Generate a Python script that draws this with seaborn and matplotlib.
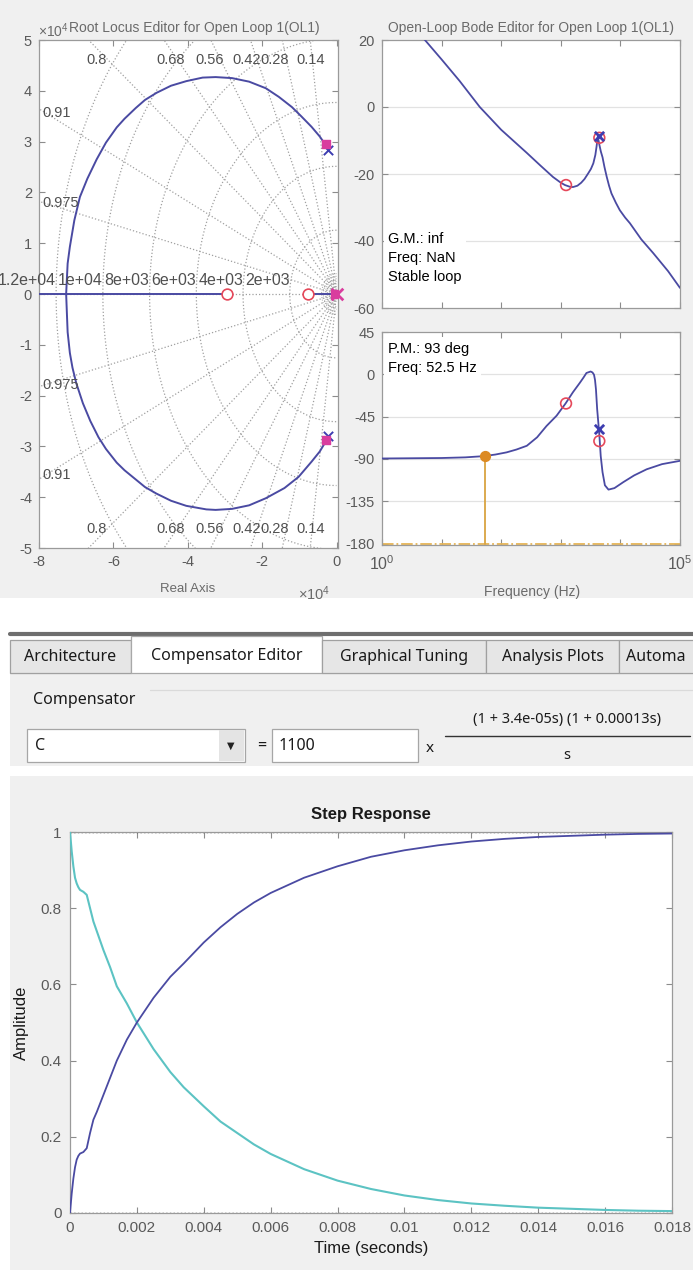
import numpy as np
import pandas as pd
import matplotlib
matplotlib.use("Agg")
import matplotlib.pyplot as plt
from matplotlib.patches import Rectangle
from matplotlib.lines import Line2D
import seaborn as sns

W, H = 693, 1270

# ---------------- root locus (units of 1e4) ----------------
locus_up_re = [-0.27, -0.45, -0.67, -0.95, -1.20, -1.55, -1.90, -2.35, -2.81, -3.25,
               -3.60, -4.04, -4.45, -4.84, -5.15, -5.40, -5.70, -5.91, -6.20, -6.45, -6.70,
               -6.90, -7.05, -7.17, -7.23, -7.25, -7.27]
locus_up_im = [2.91, 3.10, 3.29, 3.50, 3.68, 3.88, 4.05, 4.18, 4.25, 4.27,
               4.26, 4.19, 4.10, 3.96, 3.82, 3.66, 3.45, 3.28, 2.98, 2.65, 2.27,
               1.91, 1.45, 0.93, 0.60, 0.30, 0.0]
locus_lo_re = [-0.27, -0.45, -0.67, -1.02, -1.40, -1.90, -2.35, -2.81, -3.25, -3.50,
               -4.04, -4.45, -4.84, -5.15, -5.40, -5.70, -5.91, -6.20, -6.40, -6.62, -6.82,
               -7.00, -7.10, -7.17, -7.23, -7.25, -7.27]
locus_lo_im = [-2.88, -3.10, -3.30, -3.60, -3.82, -4.02, -4.16, -4.23, -4.25, -4.24,
               -4.17, -4.07, -3.93, -3.80, -3.65, -3.47, -3.32, -3.05, -2.82, -2.50, -2.15,
               -1.75, -1.45, -1.16, -0.75, -0.38, 0.0]
real_branch_a = [-8.10, -2.94]
real_branch_b = [-0.77, 0.0]
zero_re = [-2.94, -0.77]
ol_pole_re = [-0.24, -0.22, 0.0]
ol_pole_im = [2.83, -2.80, 0.0]
cl_pole_re = [-0.29, -0.27, -0.03]
cl_pole_im = [2.95, -2.87, 0.0]
damping = [0.14, 0.28, 0.42, 0.56, 0.68, 0.8, 0.91, 0.975]
damp_top_x = [-0.70, -1.66, -2.41, -3.42, -4.46, -6.44]
damp_top_lbl = ["0.14", "0.28", "0.42", "0.56", "0.68", "0.8"]
damp_side_y = [3.56, 1.79]
damp_side_lbl = ["0.91", "0.975"]
wn_hz = [2e3, 4e3, 6e3, 8e3, 1e4, 1.2e4]
wn_lbl = ["2e+03", "4e+03", "6e+03", "8e+03", "1e+04", "1.2e+04"]

# ---------------- open-loop Bode ----------------
mag_f = [1.0, 5.25, 10, 20, 43.7, 100, 269, 450, 741, 1000, 1175, 1413, 1600, 1900,
         2200, 2500, 2884, 3200, 3516, 3800, 3981, 4100, 4169, 4300, 4467, 4700, 5012,
         5400, 5888, 6450, 7079, 8400, 9772, 12000, 14454, 22387, 35481, 63096, 100000]
mag_db = [35.5, 20, 14.2, 7.8, 0, -6.8, -13.7, -17.4, -20.9, -22.6, -23.3, -23.8, -23.9, -23.5,
          -22.6, -21.5, -19.8, -18.5, -16.8, -14.3, -11.8, -10.0, -8.9, -10.0, -11.5, -13.3, -15.0,
          -17.9, -20.8, -23.5, -25.8, -28.6, -30.8, -33.0, -34.7, -39.5, -43.6, -49.0, -54.0]
ph_f = [1.0, 10, 25, 51.3, 80, 123, 180, 269, 400, 575, 850, 1202, 1600, 2089, 2400, 2692,
        3162, 3400, 3606, 3750, 3890, 4074, 4430, 4677, 5012, 5495, 6310, 7943, 11220,
        17000, 27542, 50000, 100000]
ph_deg = [-89.5, -89, -88.3, -87, -85.3, -83, -80, -76, -67, -55, -44, -31, -19, -9, -3.5, 1.4,
          3, 2, -0.4, -6, -16, -37, -64, -87, -104, -118, -122.6, -121, -114.6,
          -107.5, -101, -95.5, -92]
mag_zero = ([1224, 4430], [-23.3, -9.2])
mag_pole = ([4400], [-8.7])
ph_zero = ([1224, 4430], [-31, -71])
ph_pole = ([4400], [-58.5])
pm_freq, pm_phase = 52.5, -87

# ---------------- step response ----------------
t_step = [0, 0.00005, 0.0001, 0.00015, 0.0002, 0.00025, 0.0003, 0.0004, 0.0005, 0.0006,
          0.0007, 0.0008, 0.001, 0.0012, 0.0014, 0.0017, 0.002, 0.0025, 0.003, 0.0034,
          0.004, 0.0045, 0.005, 0.0055, 0.006, 0.007, 0.008, 0.009, 0.010, 0.011,
          0.012, 0.013, 0.014, 0.015, 0.016, 0.017, 0.018]
y_output = [0, 0.05, 0.09, 0.12, 0.14, 0.15, 0.156, 0.16, 0.17, 0.21,
            0.245, 0.265, 0.31, 0.355, 0.40, 0.455, 0.50, 0.565, 0.62, 0.655,
            0.71, 0.75, 0.785, 0.815, 0.84, 0.88, 0.91, 0.935, 0.952, 0.965,
            0.975, 0.982, 0.987, 0.99, 0.993, 0.995, 0.996]
y_error = [1.0, 0.95, 0.91, 0.88, 0.865, 0.855, 0.848, 0.843, 0.835, 0.80,
           0.765, 0.74, 0.69, 0.645, 0.595, 0.55, 0.50, 0.43, 0.37, 0.33,
           0.28, 0.24, 0.21, 0.18, 0.155, 0.115, 0.085, 0.063, 0.046, 0.034,
           0.025, 0.019, 0.014, 0.011, 0.008, 0.006, 0.005]
t_ticks = [0, 0.002, 0.004, 0.006, 0.008, 0.01, 0.012, 0.014, 0.016, 0.018]

# ---------------- styling ----------------
sns.set_theme(style="white")
plt.rcParams["font.family"] = ["Liberation Sans", "DejaVu Sans"]
plt.rcParams.update({
    "xtick.direction": "in", "ytick.direction": "in",
    "xtick.top": True, "ytick.right": True,
    "xtick.bottom": True, "ytick.left": True,
    "xtick.major.size": 4, "ytick.major.size": 4,
    "xtick.major.width": 0.8, "ytick.major.width": 0.8,
    "xtick.color": "#8c8c8c", "ytick.color": "#8c8c8c",
    "xtick.labelcolor": "#5a5a5a", "ytick.labelcolor": "#5a5a5a",
    "axes.edgecolor": "#9a9a9a", "axes.linewidth": 0.9,
    "xtick.labelsize": 10.5, "ytick.labelsize": 10.5,
    "mathtext.fontset": "custom", "mathtext.rm": "Liberation Sans",
    "mathtext.it": "Liberation Sans:italic",
})

BLUE = "#4a4aa2"
CYAN = "#5cc3c3"
RED = "#e5485a"
MAG = "#d93d9e"
GRID = "#a0a0a0"
PANEL = "#f0f0f0"
UI = ["Noto Sans", "DejaVu Sans"]

fig = plt.figure(figsize=(W / 100, H / 100), dpi=100, facecolor="white")


def add_ax(x0, y0, x1, y1):
    return fig.add_axes([x0 / W, 1 - y1 / H, (x1 - x0) / W, (y1 - y0) / H])


def box(x0, y0, x1, y1, fc, ec="none", lw=0.0, z=-5):
    fig.add_artist(Rectangle((x0 / W, 1 - y1 / H), (x1 - x0) / W, (y1 - y0) / H,
                             transform=fig.transFigure, facecolor=fc, edgecolor=ec,
                             linewidth=lw, zorder=z))


def hline(x0, x1, y, color, lw, z=-4):
    fig.add_artist(Line2D([x0 / W, x1 / W], [1 - y / H, 1 - y / H], transform=fig.transFigure,
                          color=color, linewidth=lw, zorder=z))


def ftext(x, y, s, **kw):
    fig.text(x / W, 1 - y / H, s, **kw)


# panels behind the plots
box(0, 0, W, 598, PANEL)
box(10, 672, W, 766, PANEL)
box(10, 776, W, H, PANEL)

# ================= root locus editor =================
ax1 = add_ax(39, 40, 338, 548)
ax1.set_facecolor("white")
r_far = np.linspace(0, 12, 2)
for z in damping:
    th = np.arccos(z)
    for sgn in (1, -1):
        ax1.plot(-r_far * np.cos(th), sgn * r_far * np.sin(th), ls=":", color=GRID, lw=0.9, zorder=1)
ax1.plot([-8.5, 0], [0, 0], ls=":", color=GRID, lw=0.9, zorder=1)
arc = np.linspace(np.pi / 2, 3 * np.pi / 2, 200)
for f in wn_hz:
    r = 2 * np.pi * f / 1e4
    ax1.plot(r * np.cos(arc), r * np.sin(arc), ls=":", color=GRID, lw=0.9, zorder=1)
for r in np.arange(0.05, 0.45, 0.05):
    ax1.plot(r * np.cos(arc), r * np.sin(arc), ls=":", color=GRID, lw=0.7, zorder=1)

locus_up = pd.DataFrame({"re": locus_up_re, "im": locus_up_im})
locus_lo = pd.DataFrame({"re": locus_lo_re, "im": locus_lo_im})
sns.lineplot(data=locus_up, x="re", y="im", sort=False, estimator=None, color=BLUE, lw=1.4, ax=ax1, zorder=3)
sns.lineplot(data=locus_lo, x="re", y="im", sort=False, estimator=None, color=BLUE, lw=1.4, ax=ax1, zorder=3)
sns.lineplot(x=real_branch_a, y=[0, 0], color=BLUE, lw=1.4, ax=ax1, zorder=3)
sns.lineplot(x=real_branch_b, y=[0, 0], color=BLUE, lw=1.4, ax=ax1, zorder=3)
ax1.scatter(zero_re, [0] * len(zero_re), s=60, facecolors="white", edgecolors=RED, linewidths=1.2, zorder=5)
ax1.scatter(cl_pole_re, cl_pole_im, s=34, marker="s", color=MAG, zorder=6)
ax1.scatter(ol_pole_re[:2], ol_pole_im[:2], s=45, marker="x", color="#3d3db0", linewidths=1.4, zorder=5)
ax1.scatter(ol_pole_re[2:], ol_pole_im[2:], s=70, marker="x", color=MAG, linewidths=2.0, zorder=7, clip_on=False)

for x, s in zip(damp_top_x, damp_top_lbl):
    ax1.text(x, 4.60, s, fontsize=10.5, color="#505050", ha="center", va="center", zorder=4)
    ax1.text(x, -4.62, s, fontsize=10.5, color="#505050", ha="center", va="center", zorder=4)
for y, s in zip(damp_side_y, damp_side_lbl):
    ax1.text(-7.92, y, s, fontsize=10.5, color="#505050", ha="left", va="center", zorder=4)
    ax1.text(-7.92, -y, s, fontsize=10.5, color="#505050", ha="left", va="center", zorder=4)
for f, s in zip(wn_hz, wn_lbl):
    ax1.text(-2 * np.pi * f / 1e4, 0.27, s, fontsize=11.5, color="#505050", ha="right",
             va="center", zorder=4, clip_on=False)

ax1.set_xlim(-8, 0.04)
ax1.set_ylim(-5, 5)
ax1.set_xticks([-8, -6, -4, -2, 0])
ax1.set_xticklabels(["-8", "-6", "-4", "-2", "0"])
ax1.set_yticks(range(-5, 6))
ax1.set_yticklabels([str(v) for v in range(-5, 6)])
ax1.set_xlabel("")
ax1.set_ylabel("")
ax1.tick_params(pad=5)
ftext(194, 28, "Root Locus Editor for Open Loop 1(OL1)", fontsize=10, color="#6a6a6a", ha="center", va="center")
ftext(38, 31, r"$\times10^{4}$", fontsize=10, color="#6a6a6a", ha="left", va="center")
ftext(188, 589, "Real Axis", fontsize=9.5, color="#6a6a6a", ha="center", va="center")
ftext(298, 594, r"$\times10^{4}$", fontsize=10.5, color="#6a6a6a", ha="left", va="center")

# ================= open-loop Bode editor =================
axm = add_ax(382, 40, 680, 308)
axp = add_ax(382, 332, 680, 545)
for a in (axm, axp):
    a.set_facecolor("white")

sns.lineplot(x=mag_f, y=mag_db, color=BLUE, lw=1.3, ax=axm, zorder=3)
axm.set_xscale("log")
axm.set_xlim(1, 1e5)
axm.set_ylim(-60, 20)
axm.set_yticks([-60, -40, -20, 0, 20])
axm.set_yticklabels(["-60", "-40", "-20", "0", "20"])
for v in (-40, -20, 0):
    axm.axhline(v, color="#e2e2e2", lw=0.9, zorder=0)
axm.scatter(*mag_zero, s=60, facecolors="none", edgecolors=RED, linewidths=1.2, zorder=5)
axm.scatter(*mag_pole, s=45, marker="x", color="#3d3db0", linewidths=2.0, zorder=6)
axm.text(0.02, 0.285, "G.M.: inf\nFreq: NaN\nStable loop", transform=axm.transAxes, fontsize=10.5,
         color="black", ha="left", va="top", linespacing=1.45, zorder=8,
         bbox=dict(facecolor="white", edgecolor="none", pad=3))

sns.lineplot(x=ph_f, y=ph_deg, color=BLUE, lw=1.3, ax=axp, zorder=3)
axp.set_xscale("log")
axp.set_xlim(1, 1e5)
axp.set_ylim(-181.5, 45)
axp.set_yticks([-180, -135, -90, -45, 0, 45])
axp.set_yticklabels(["-180", "-135", "-90", "-45", "0", "45"])
for v in (-135, -90, -45, 0):
    axp.axhline(v, color="#e2e2e2", lw=0.9, zorder=0)
axp.axhline(-180, color="#e6b455", lw=1.3, ls="-.", zorder=2)
axp.plot([pm_freq, pm_freq], [pm_phase, -180], color="#d9a441", lw=1.3, zorder=4)
axp.scatter([pm_freq], [pm_phase], s=50, color="#dc8a22", zorder=6)
axp.scatter(*ph_zero, s=60, facecolors="none", edgecolors=RED, linewidths=1.2, zorder=5)
axp.scatter(*ph_pole, s=45, marker="x", color="#3d3db0", linewidths=2.0, zorder=6)
axp.text(0.02, 0.955, "P.M.: 93 deg\nFreq: 52.5 Hz", transform=axp.transAxes, fontsize=10.5,
         color="black", ha="left", va="top", linespacing=1.45, zorder=8,
         bbox=dict(facecolor="white", edgecolor="none", pad=3))

decades = [1, 10, 100, 1e3, 1e4, 1e5]
for a in (axm, axp):
    a.set_xticks(decades)
    a.minorticks_off()
    a.set_xlabel("")
    a.set_ylabel("")
    a.tick_params(axis="y", pad=5)
axm.set_xticklabels([""] * 6)
axp.set_xticklabels([r"$10^{0}$", "", "", "", "", r"$10^{5}$"])
axp.tick_params(axis="x", pad=7, labelsize=11.5)
ftext(531, 28, "Open-Loop Bode Editor for Open Loop 1(OL1)", fontsize=10, color="#6a6a6a",
      ha="center", va="center")
ftext(532, 592, "Frequency (Hz)", fontsize=10, color="#6a6a6a", ha="center", va="center")

# ================= tab strip and compensator editor =================
hline(10, W, 633.5, "#6e6e6e", 3.0)
tabs = [("Architecture", 10, 131, False), ("Compensator Editor", 131, 322, True),
        ("Graphical Tuning", 322, 486, False), ("Analysis Plots", 486, 619, False),
        ("Automa", 619, 700, False)]
for label, x0, x1, active in tabs:
    if active:
        box(x0, 636, x1, 673, "white", ec="#a8a8a8", lw=0.9, z=-3)
    else:
        box(x0, 640, x1, 673, "#e6e6e6", ec="#a0a0a0", lw=0.9, z=-3)
    if label == "Automa":
        ftext(x0 + 7, 657, label, fontsize=11.5, color="#1a1a1a", ha="left", va="center", family=UI)
    else:
        ftext((x0 + x1) / 2, 656 if active else 657, label, fontsize=11.5, color="#1a1a1a",
              ha="center", va="center", family=UI)
hline(322, W, 673, "#b0b0b0", 0.8)
hline(10, 131, 673, "#b0b0b0", 0.8)

ftext(33, 700, "Compensator", fontsize=11.5, color="#1a1a1a", ha="left", va="center", family=UI)
hline(150, W, 690, "#dadada", 0.9)
box(27, 729, 245, 762, "white", ec="#a6a6a6", lw=0.9, z=-3)
box(219, 730, 244, 761, "#e4e4e4", z=-2)
ftext(35, 746, "C", fontsize=11.5, color="#1a1a1a", ha="left", va="center", family=UI)
ftext(231, 746, "\u25BC", fontsize=7, color="#222222", ha="center", va="center", family=["DejaVu Sans"])
ftext(262, 746, "=", fontsize=11.5, color="#1a1a1a", ha="center", va="center", family=UI)
box(272, 729, 418, 762, "white", ec="#a6a6a6", lw=0.9, z=-3)
ftext(279, 746, "1100", fontsize=11.5, color="#1a1a1a", ha="left", va="center", family=UI)
ftext(430, 748, "x", fontsize=11, color="#1a1a1a", ha="center", va="center", family=UI)
ftext(567, 720, "(1 + 3.4e-05s) (1 + 0.00013s)", fontsize=10.5, color="#1a1a1a",
      ha="center", va="center", family=UI)
hline(445, 690, 736, "#333333", 1.0)
ftext(567, 755, "s", fontsize=10.5, color="#1a1a1a", ha="center", va="center", family=UI)

# ================= step response =================
axs = add_ax(70, 832, 672, 1213)
axs.set_facecolor("white")
step = pd.DataFrame({"t": t_step, "output": y_output, "error": y_error})
sns.lineplot(data=step, x="t", y="error", color=CYAN, lw=1.5, ax=axs, zorder=3)
sns.lineplot(data=step, x="t", y="output", color=BLUE, lw=1.3, ax=axs, zorder=4)
axs.axhline(1, color="#222222", ls=":", lw=1.0, zorder=2)
axs.axhline(0, color="#222222", ls=":", lw=1.0, zorder=2)
axs.set_xlim(0, 0.018)
axs.set_ylim(0, 1)
axs.set_xticks(t_ticks)
axs.set_xticklabels(["0", "0.002", "0.004", "0.006", "0.008", "0.01", "0.012", "0.014", "0.016", "0.018"])
axs.set_yticks([0, 0.2, 0.4, 0.6, 0.8, 1])
axs.set_yticklabels(["0", "0.2", "0.4", "0.6", "0.8", "1"])
axs.tick_params(labelsize=11, pad=6)
axs.set_title("Step Response", fontsize=12, fontweight="bold", color="#1a1a1a", pad=9)
axs.set_xlabel("Time (seconds)", fontsize=12, color="#1a1a1a", labelpad=4)
axs.set_ylabel("Amplitude", fontsize=12, color="#1a1a1a", labelpad=8)

fig.savefig("out.png", dpi=100, facecolor=fig.get_facecolor())
